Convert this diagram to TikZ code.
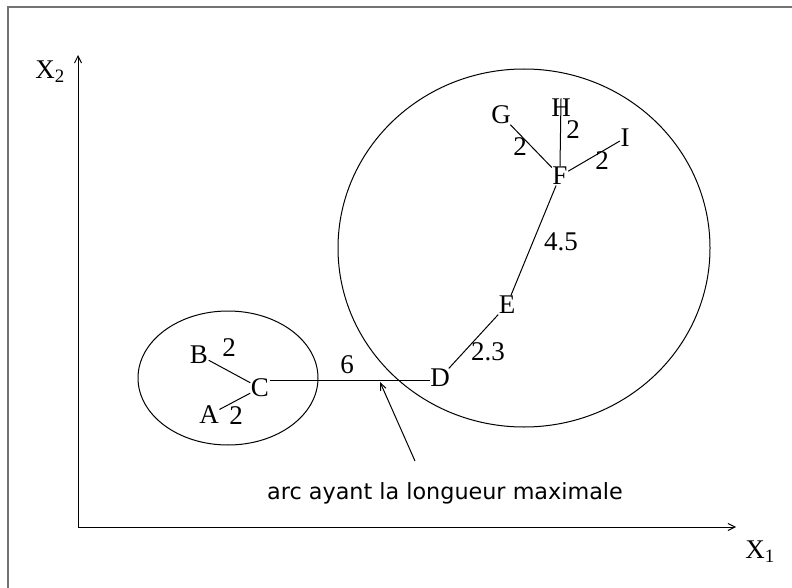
\documentclass[tikz,border=0pt]{standalone}
\usepackage{fontspec}
\setmainfont{Liberation Serif}
\newfontfamily\annfont{DejaVu Sans}
\usetikzlibrary{arrows.meta}
\begin{document}
\begin{tikzpicture}[x=1pt,y=-1pt,
  pt/.style={inner sep=0.5pt,font=\fontsize{27}{27}\selectfont},
  lbl/.style={inner sep=0pt,font=\fontsize{27}{27}\selectfont},
  edge/.style={line width=1pt},
  axis/.style={line width=1pt,-{Straight Barb[length=7pt,width=7pt]}}]
\useasboundingbox (0,0) rectangle (792,588);
\fill[white] (0,0) rectangle (792,588);
\draw[gray!90!black,line width=2pt] (8,600) -- (8,7) -- (800,7);
% axes
\coordinate (O) at (78,527);
\coordinate (Yend) at (78,55);
\coordinate (Xend) at (736,527);
\draw[axis] (O) -- (Yend);
\draw[axis] (O) -- (Xend);
\node[lbl] (x2) at (50,72) {X$_{\mathrm{2}}$};
\node[lbl] (x1) at (760,552) {X$_{\mathrm{1}}$};
% clusters
\draw[line width=1pt] (228,378) ellipse [x radius=90, y radius=67];
\draw[line width=1pt] (524,248) ellipse [x radius=186, y radius=179];
% points
\node[pt] (B) at (199,355) {B};
\node[pt] (C) at (260,388) {C};
\node[pt] (A) at (209,415) {A};
\node[pt] (D) at (440,378) {D};
\node[pt] (E) at (507,305) {E};
\node[pt] (F) at (560,176) {F};
\node[pt] (G) at (501,115) {G};
\node[pt] (H) at (561,108) {H};
\node[pt] (I) at (625,138) {I};
% edges
\draw[edge] (B) -- (C);
\draw[edge] (A) -- (C);
\draw[edge] (C.east |- 0,380) -- (D.west |- 0,380);
\draw[edge] (D) -- (E);
\draw[edge] (E) -- (F);
\draw[edge] (F) -- (G);
\draw[edge] (F.north) -- (H.north);
\draw[edge] (F) -- (I);
% edge labels
\node[lbl] (lBC) at (229,348) {2};
\node[lbl] (lAC) at (236,416) {2};
\node[lbl] (lCD) at (347,365) {6};
\node[lbl] (lDE) at (488,352) {2.3};
\node[lbl] (lEF) at (561,242) {4.5};
\node[lbl] (lGF) at (520,147) {2};
\node[lbl] (lHF) at (573,130) {2};
\node[lbl] (lFI) at (602,161) {2};
% annotation
\coordinate (tip) at (380,382);
\coordinate (tail) at (415,461);
\draw[line width=1pt,-{Straight Barb[length=7pt,width=6pt]}] (tail) -- (tip);
\node[inner sep=0pt,font=\annfont\fontsize{22.3}{22.3}\selectfont] (ann) at (445,493) {arc ayant la longueur maximale};
\end{tikzpicture}
\end{document}
